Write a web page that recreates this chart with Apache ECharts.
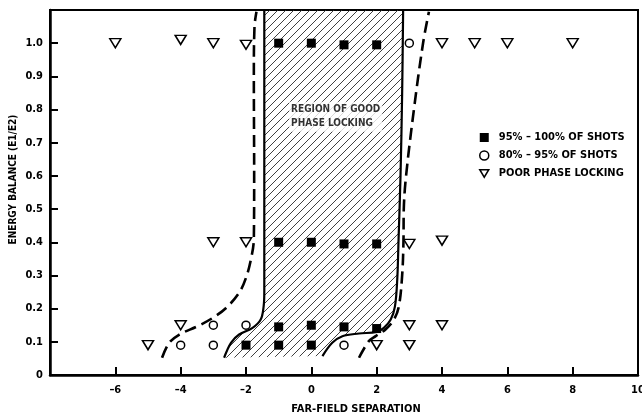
<!DOCTYPE html>
<html><head><meta charset="utf-8">
<script src="https://cdn.jsdelivr.net/npm/echarts@6/dist/echarts.min.js"></script>
<style>html,body{margin:0;padding:0;background:#fff}#c{width:642px;height:417px}</style>
</head><body><div id="c"></div>
<script>
const FONT = '"Liberation Sans Narrow","DejaVu Sans Condensed","Arial Narrow",sans-serif';

const seriesNames = ['95% – 100% OF SHOTS', '80% – 95% OF SHOTS', 'POOR PHASE LOCKING'];
const regionLabel = 'REGION OF GOOD\nPHASE LOCKING';
const xAxisTitle = 'FAR-FIELD SEPARATION';
const yAxisTitle = 'ENERGY BALANCE (E1/E2)';

// 95% - 100% of shots (filled squares)
const goodShots = [
  [-1, 1.0], [0, 1.0], [1, 0.995], [2, 0.995],
  [-1, 0.4], [0, 0.4], [1, 0.395], [2, 0.395],
  [-1, 0.145], [0, 0.15], [1, 0.145], [2, 0.14],
  [-2, 0.09], [-1, 0.09], [0, 0.09]
];
// 80% - 95% of shots (open circles)
const fairShots = [
  [3, 1.0], [-3, 0.15], [-2, 0.15], [-4, 0.09], [-3, 0.09], [1, 0.09]
];
// poor phase locking (open inverted triangles)
const poorShots = [
  [-6, 1.0], [-4, 1.01], [-3, 1.0], [-2, 0.995], [4, 1.0], [5, 1.0], [6, 1.0], [8, 1.0],
  [-3, 0.4], [-2, 0.4], [3, 0.395], [4, 0.405],
  [-4, 0.15], [3, 0.15], [4, 0.15],
  [-5, 0.09], [2, 0.09], [3, 0.09]
];

// boundary curves
const leftDashed = [
  [-4.57, 0.052], [-4.35, 0.097], [-4.04, 0.122], [-3.48, 0.147], [-3.02, 0.172],
  [-2.61, 0.202], [-2.21, 0.248], [-2.0, 0.293], [-1.85, 0.348], [-1.76, 0.41],
  [-1.75, 0.6], [-1.76, 0.9], [-1.74, 1.05], [-1.68, 1.095]
];
const leftSolid = [ // top to bottom
  [-1.44, 1.1], [-1.44, 0.6], [-1.44, 0.25], [-1.46, 0.207], [-1.55, 0.167],
  [-1.8, 0.142], [-2.21, 0.122], [-2.46, 0.097], [-2.67, 0.052]
];
const rightSolid = [ // bottom to top
  [0.34, 0.057], [0.64, 0.097], [0.95, 0.117], [1.46, 0.125], [2.0, 0.13],
  [2.22, 0.142], [2.43, 0.167], [2.56, 0.207], [2.63, 0.288], [2.67, 0.408],
  [2.73, 0.6], [2.78, 0.85], [2.81, 1.1]
];
const rightDashed = [
  [1.46, 0.052], [1.76, 0.102], [1.97, 0.117], [2.27, 0.137], [2.53, 0.167],
  [2.68, 0.207], [2.78, 0.3], [2.82, 0.4], [2.83, 0.5], [2.9, 0.6],
  [3.14, 0.8], [3.42, 1.0], [3.6, 1.095]
];
const regionLabelAt = [-0.68, 0.778];

// hatch pattern
function makeHatch() {
  const s = 8, c = document.createElement('canvas');
  c.width = s; c.height = s;
  const g = c.getContext('2d');
  g.strokeStyle = '#2a2a2a'; g.lineWidth = 0.9;
  g.beginPath();
  g.moveTo(0, s); g.lineTo(s, 0);
  g.moveTo(-1, 1); g.lineTo(1, -1);
  g.moveTo(s - 1, s + 1); g.lineTo(s + 1, s - 1);
  g.stroke();
  return c;
}
const hatch = makeHatch();
const hatchPolygon = leftSolid.concat(rightSolid);

const TRI = 'path://M0,0 L12,0 L6,10 Z';
const chart = echarts.init(document.getElementById('c'), null, { renderer: 'canvas' });

const axisFont = { fontFamily: FONT, fontWeight: 'bold', fontSize: 11, color: '#000' };

chart.setOption({
  animation: false,
  backgroundColor: '#fff',
  grid: { left: 50, right: 4, top: 10, bottom: 42, outerBoundsMode: 'none', containLabel: false,
    show: true, borderColor: '#000', borderWidth: 2 },
  xAxis: {
    type: 'value', min: -8, max: 10, interval: 2,
    name: xAxisTitle, nameLocation: 'middle', nameGap: 29, nameMoveOverlap: false,
    nameTextStyle: Object.assign({}, axisFont, { padding: [0, 0, 0, 24] }),
    axisLine: { onZero: false, lineStyle: { color: '#000', width: 2.5 } },
    axisTick: { inside: true, length: 8, lineStyle: { color: '#000', width: 2 } },
    axisLabel: Object.assign({}, axisFont, { margin: 10,
      formatter: v => v === -8 ? '' : (v < 0 ? '–' + (-v) : String(v)) }),
    splitLine: { show: false }
  },
  yAxis: {
    type: 'value', min: 0, max: 1.1, interval: 0.1,
    name: yAxisTitle, nameLocation: 'middle', nameGap: 32, nameMoveOverlap: false,
    nameTextStyle: Object.assign({}, axisFont, { fontSize: 10, padding: [0, 0, 0, 26] }),
    axisLine: { onZero: false, lineStyle: { color: '#000', width: 2.5 } },
    axisTick: { inside: true, length: 8, lineStyle: { color: '#000', width: 2 } },
    axisLabel: Object.assign({}, axisFont, { margin: 7,
      formatter: v => v > 1.05 ? '' : (v === 0 ? '0' : v.toFixed(1)) }),
    splitLine: { show: false }
  },
  legend: {
    orient: 'vertical', left: 474, top: 127, itemWidth: 9, itemHeight: 9, itemGap: 7,
    selectedMode: false,
    data: [
      { name: seriesNames[0], icon: 'rect', itemStyle: { color: '#000', borderWidth: 0, opacity: 1 } },
      { name: seriesNames[1], icon: 'circle', itemStyle: { color: '#fff', borderColor: '#000', borderWidth: 1.5, opacity: 1 } },
      { name: seriesNames[2], icon: TRI, itemStyle: { color: '#fff', borderColor: '#000', borderWidth: 1.5, opacity: 1 } }
    ],
    textStyle: { fontFamily: FONT, fontWeight: 'bold', fontSize: 11, color: '#000', padding: [0, 0, 0, 5] }
  },
  series: [
    {
      type: 'custom', name: 'region', silent: true, z: 1,
      data: [0],
      renderItem: function (params, api) {
        const pts = hatchPolygon.map(p => api.coord(p));
        return { type: 'polygon', shape: { points: pts },
          style: { fill: { image: hatch, repeat: 'repeat' }, stroke: null } };
      }
    },
    { type: 'line', name: 'leftDashed', data: leftDashed, smooth: 0.35, showSymbol: false, silent: true, z: 3,
      lineStyle: { color: '#000', width: 2.6, type: [12, 6] } },
    { type: 'line', name: 'rightDashed', data: rightDashed, smooth: 0.35, showSymbol: false, silent: true, z: 3,
      lineStyle: { color: '#000', width: 2.6, type: [12, 6] } },
    { type: 'line', name: 'leftSolid', data: leftSolid, smooth: 0.35, showSymbol: false, silent: true, z: 3,
      lineStyle: { color: '#000', width: 2.2 } },
    { type: 'line', name: 'rightSolid', data: rightSolid, smooth: 0.35, showSymbol: false, silent: true, z: 3,
      lineStyle: { color: '#000', width: 2.2 } },
    { type: 'scatter', name: 'label', data: [regionLabelAt], symbolSize: 0, silent: true, z: 4,
      label: { show: true, position: 'right', distance: 0, formatter: regionLabel,
        fontFamily: FONT, fontWeight: 'bold', fontSize: 10, lineHeight: 14, color: '#000',
        backgroundColor: '#fff', padding: [1, 2], align: 'left' } },
    { type: 'scatter', name: seriesNames[0], data: goodShots, symbol: 'rect', symbolSize: 9, z: 5,
      itemStyle: { color: '#000', opacity: 1 } },
    { type: 'scatter', name: seriesNames[1], data: fairShots, symbol: 'circle', symbolSize: 8, z: 5,
      itemStyle: { color: '#fff', borderColor: '#000', borderWidth: 1.5, opacity: 1 } },
    { type: 'scatter', name: seriesNames[2], data: poorShots, symbol: TRI, symbolSize: [11, 9], z: 5,
      itemStyle: { color: '#fff', borderColor: '#000', borderWidth: 1.5, opacity: 1 } }
  ]
});
</script></body></html>
